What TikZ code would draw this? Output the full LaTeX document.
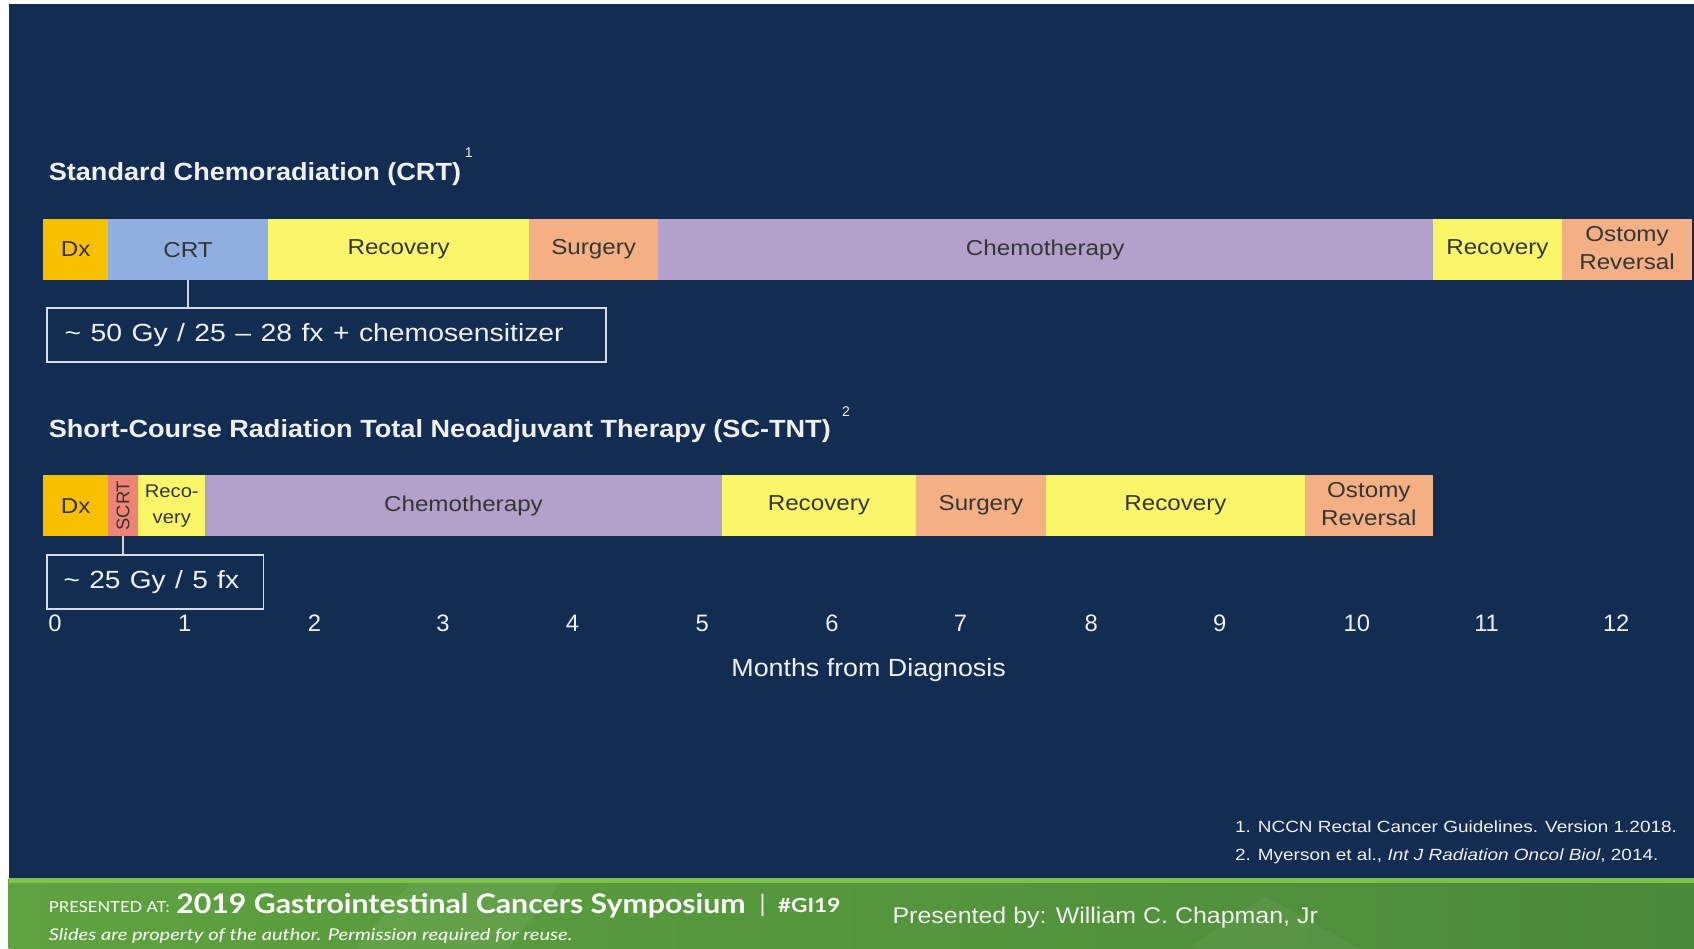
\documentclass[tikz,border=0pt]{standalone}
\usepackage{fontspec}
\setmainfont{Liberation Sans}
\newfontfamily\bannerfont{Lato}
\usetikzlibrary{calc}
\definecolor{navy}{HTML}{132D52}
\definecolor{gold}{HTML}{F7C100}
\definecolor{crtblue}{HTML}{8EAFDF}
\definecolor{yel}{HTML}{F9F66A}
\definecolor{peach}{HTML}{F4B084}
\definecolor{lav}{HTML}{B3A0CB}
\definecolor{salmon}{HTML}{EE8475}
\definecolor{bartext}{HTML}{353535}
\definecolor{lite}{HTML}{F0F0F0}
\definecolor{gA}{HTML}{5FA23F}
\definecolor{gB}{HTML}{4C8A3B}
\definecolor{gTop}{HTML}{7DC24A}
\newcommand\hx[2]{\scalebox{#1}[1]{#2}}
\newcommand\lab[1]{\hx{1.12}{#1}}
\newcommand\twolab[2]{\hx{1.12}{\begin{tabular}{@{}c@{}}#1\\#2\end{tabular}}}
\begin{document}
\begin{tikzpicture}[x=1pt,y=-1pt,
  seg/.style={inner sep=0pt, outer sep=0pt, minimum height=56pt, anchor=west, text=bartext, font=\fontsize{20}{26}\selectfont},
  callout/.style={draw=lite!90!navy, line width=1.6pt, inner ysep=0pt, minimum height=50pt, anchor=north west, text=lite, align=left, font=\fontsize{23}{26}\selectfont},
  conn/.style={draw=lite!85!navy, line width=1.5pt},
  title/.style={anchor=west, text=lite, inner sep=0pt, font=\fontsize{23}{26}\selectfont\bfseries},
  sup/.style={text=lite, inner sep=0pt, font=\fontsize{13}{14}\selectfont},
  tick/.style={text=lite, inner sep=0pt, font=\fontsize{22}{24}\selectfont},
  ref/.style={anchor=west, text=lite, inner sep=0pt, font=\fontsize{15}{17}\selectfont},
  ban/.style={anchor=west, text=white, inner sep=0pt}
]
\useasboundingbox (0,0) rectangle (1568,878);
\fill[white] (0,0) rectangle (1568,878);
\fill[navy] (8,4) rectangle (1568,813);
\shade[left color=gA, right color=gB] (8,813) rectangle (1568,878);
\fill[white, opacity=0.06] (380,817) -- (520,817) -- (470,878) -- (330,878) -- cycle;
\fill[white, opacity=0.05] (1100,878) -- (1170,830) -- (1260,878) -- cycle;
\fill[gTop] (8,813) rectangle (1568,817);

% Bar 1: standard CRT
\node[seg, fill=gold, minimum width=60pt] (dx1) at (40,231) {\lab{Dx}};
\node[seg, fill=crtblue, minimum width=148pt] (crt) at (100,231) {\lab{CRT}};
\node[seg, fill=yel, minimum width=242pt] (rec1) at (248,231) {\lab{Recovery}};
\node[seg, fill=peach, minimum width=119pt] (surg1) at (490,231) {\lab{Surgery}};
\node[seg, fill=lav, minimum width=717pt] (chemo1) at (609,231) {\lab{Chemotherapy}};
\node[seg, fill=yel, minimum width=120pt] (rec1b) at (1326,231) {\lab{Recovery}};
\node[seg, fill=peach, minimum width=120pt] (ost1) at (1446,231) {\twolab{Ostomy}{Reversal}};

% Bar 2: SC-TNT
\node[seg, fill=gold, minimum width=60pt] (dx2) at (40,468) {\lab{Dx}};
\node[seg, fill=salmon, minimum width=28pt] (scrt) at (100,468) {};
\node[rotate=90, text=bartext, inner sep=0pt, font=\fontsize{17}{19}\selectfont] (scrtlab) at (scrt.center) {SCRT};
\node[seg, fill=yel, minimum width=62pt, font=\fontsize{17}{24}\selectfont] (rec2a) at (128,468) {\hx{1.1}{\begin{tabular}{@{}c@{}}Reco-\\very\end{tabular}}};
\node[seg, fill=lav, minimum width=478pt] (chemo2) at (190,468) {\lab{Chemotherapy}};
\node[seg, fill=yel, minimum width=180pt] (rec2b) at (668,468) {\lab{Recovery}};
\node[seg, fill=peach, minimum width=120pt] (surg2) at (848,468) {\lab{Surgery}};
\node[seg, fill=yel, minimum width=240pt] (rec2c) at (968,468) {\lab{Recovery}};
\node[seg, fill=peach, minimum width=118pt] (ost2) at (1208,468) {\twolab{Ostomy}{Reversal}};

% Titles
\node[title] (t1) at (45,161) {\hx{1.09}{Standard Chemoradiation (CRT)}};
\node[sup] (s1) at (434,141) {1};
\node[title] (t2) at (45,399) {\hx{1.09}{Short-Course Radiation Total Neoadjuvant Therapy (SC-TNT)}};
\node[sup] (s2) at (783,381) {2};

% Callouts
\node[callout, inner xsep=16pt, text width=485pt] (box1) at (43,284) {\hx{1.14}{\textasciitilde{} 50 Gy / 25 -- 28 fx + chemosensitizer}};
\node[callout, inner xsep=15pt, text width=170pt] (box2) at (43,513) {\hx{1.13}{\textasciitilde{} 25 Gy / 5 fx}};
\draw[conn] (crt.south) -- (crt.south |- box1.north);
\draw[conn] (scrt.south) -- (scrt.south |- box2.north);

% Axis
\foreach \m/\x in {0/51,1/171,2/291,3/410,4/530,5/650,6/770,7/889,8/1010,9/1129,10/1256,11/1376,12/1496}
  \node[tick] (m\m) at (\x,577) {\m};
\node[text=lite, inner sep=0pt, font=\fontsize{23}{26}\selectfont] (xlab) at (804,620) {\hx{1.08}{Months from Diagnosis}};

% References
\node[ref] (r1) at (1143,765) {\hx{1.17}{1. NCCN Rectal Cancer Guidelines. Version 1.2018.}};
\node[ref] (r2) at (1143,793) {\hx{1.17}{2. Myerson et al., \textit{Int J Radiation Oncol Biol}, 2014.}};

% Banner
\node[ban, font=\bannerfont\fontsize{14}{15}\selectfont] (pres) at (45,840) {\hx{1.1}{PRESENTED AT:}};
\node[ban, font=\bannerfont\bfseries\fontsize{25}{27}\selectfont] (sym) at (163,838) {\hx{1.12}{2019 Gastrointestinal Cancers Symposium}};
\node[ban, font=\bannerfont\fontsize{22}{24}\selectfont] (bar) at (703,838) {|};
\node[ban, font=\bannerfont\bfseries\fontsize{18}{20}\selectfont] (hash) at (720,838) {\hx{1.16}{\#GI19}};
\node[ban, font=\bannerfont\itshape\fontsize{15}{16}\selectfont] (slides) at (45,866) {\hx{1.24}{Slides are property of the author. Permission required for reuse.}};
\node[ban, text=lite, font=\fontsize{21}{23}\selectfont] (by) at (826,849) {\hx{1.1}{Presented by: William C. Chapman, Jr}};
\end{tikzpicture}
\end{document}
